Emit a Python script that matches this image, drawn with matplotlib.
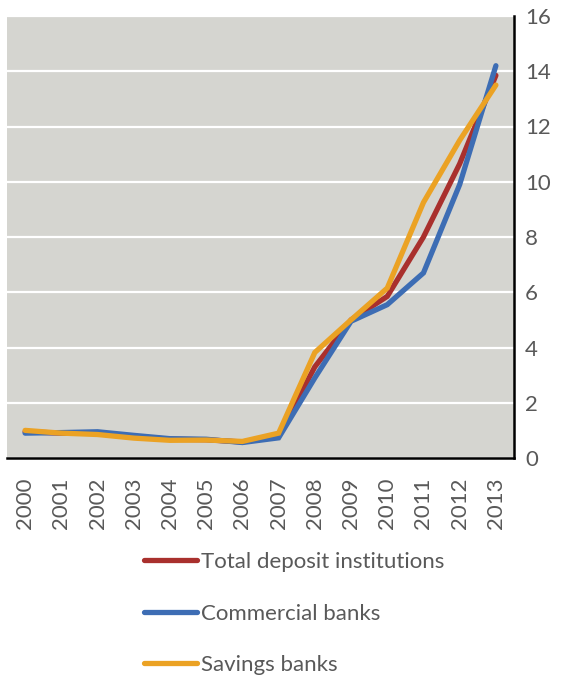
import numpy as np
import matplotlib.pyplot as plt

years = [str(y) for y in range(2000, 2014)]
total_deposit = [0.95, 0.9, 0.9, 0.78, 0.68, 0.66, 0.58, 0.8, 3.3, 5.0, 5.85, 8.0, 10.65, 13.85]
commercial = [0.9, 0.92, 0.95, 0.82, 0.7, 0.68, 0.56, 0.73, 2.9, 4.95, 5.55, 6.7, 9.9, 14.2]
savings = [1.0, 0.9, 0.85, 0.72, 0.64, 0.65, 0.6, 0.9, 3.82, 5.0, 6.15, 9.25, 11.5, 13.5]

series = [
    ("Total deposit institutions", total_deposit, "#A9302D"),
    ("Commercial banks", commercial, "#3D6DB4"),
    ("Savings banks", savings, "#EBA224"),
]

plt.rcParams['font.family'] = ['Lato', 'DejaVu Sans']
text_color = "#595959"
fs = 16

W, H = 567, 681
fig = plt.figure(figsize=(W / 100, H / 100), dpi=100)
ax = fig.add_axes([7 / W, (H - 458) / H, (514 - 7) / W, (458 - 16) / H])
ax.set_facecolor("#D5D5D0")

x = np.arange(len(years))
for label, vals, color in series:
    ax.plot(x, vals, color=color, lw=3.8, label=label, solid_capstyle='round', solid_joinstyle='miter')

ax.set_xlim(-0.5, len(years) - 0.5)
ax.set_ylim(0, 16)
ax.set_yticks(range(0, 17, 2))
ax.yaxis.tick_right()
ax.grid(axis='y', color='white', lw=1.6)
ax.set_axisbelow(True)
ax.set_xticks(x)
ax.set_xticklabels(years, rotation=90)
ax.tick_params(length=0, labelsize=fs, colors=text_color)
ax.tick_params(axis='y', pad=8)
ax.tick_params(axis='x', pad=14)

for side in ['left', 'top']:
    ax.spines[side].set_visible(False)
for side in ['right', 'bottom']:
    ax.spines[side].set_color('black')
    ax.spines[side].set_linewidth(1.8)

leg = fig.legend(loc='upper left', bbox_to_anchor=(124 / W, 1 - 532 / H), frameon=False,
                 fontsize=fs, handlelength=2.4, handletextpad=0.18, labelspacing=1.42,
                 labelcolor=text_color)

fig.savefig("out.png", dpi=100)
